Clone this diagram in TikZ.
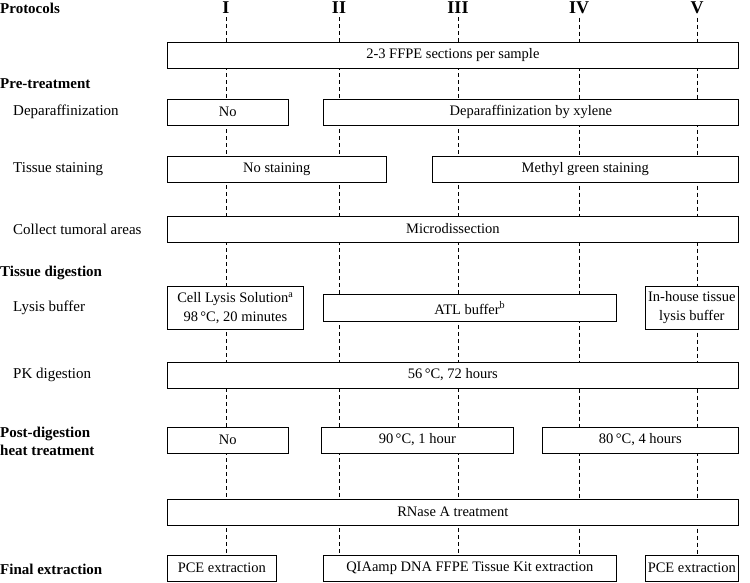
\documentclass[tikz,border=0pt]{standalone}
\usepackage{fontspec}
\setmainfont{Liberation Serif}
\usepackage{tikz}
\usetikzlibrary{positioning, backgrounds}

\tikzset{
  stagebox/.style={draw, fill=white, line width=0.7pt, minimum height=26pt,
    inner sep=0pt, anchor=west, align=center, font=\fontsize{14.5}{19}\selectfont},
  guide/.style={line width=0.6pt, dash pattern=on 4pt off 3pt},
  numeral/.style={font=\fontsize{18}{20}\selectfont\bfseries},
  grouplabel/.style={anchor=west, inner sep=0pt, align=left,
    font=\fontsize{15}{18}\selectfont\bfseries},
  rowlabel/.style={anchor=west, inner sep=0pt, font=\fontsize{15}{18}\selectfont},
}

\begin{document}
\begin{tikzpicture}[x=1pt, y=-1pt]
  \useasboundingbox (0,0) rectangle (750,583);

  % protocol columns
  \foreach \n/\x in {I/226, II/339, III/458, IV/579, V/697}
    \node[numeral] (p\n) at (\x,8) {\n};
  \coordinate (bottom) at (0,578);

  % row labels
  \node[grouplabel] (protocols) at (0,8) {Protocols};
  \node[grouplabel] (pretreat) at (0,84) {Pre-treatment};
  \node[rowlabel] (deparlbl) at (13,112) {Deparaffinization};
  \node[rowlabel] (stainlbl) at (13,169) {Tissue staining};
  \node[rowlabel] (collectlbl) at (13,229) {Collect tumoral areas};
  \node[grouplabel] (digestion) at (0,273) {Tissue digestion};
  \node[rowlabel] (lysislbl) at (13,308) {Lysis buffer};
  \node[rowlabel] (pklbl) at (13,375) {PK digestion};
  \node[grouplabel] (postdig) at (0,441) {Post-digestion\\heat treatment};
  \node[grouplabel] (final) at (0,569) {Final extraction};

  % steps
  \node[stagebox, minimum width=571pt] (ffpe) at (167,55) {2-3 FFPE sections per sample};

  \node[stagebox, minimum width=121pt] (nodepar) at (167,112) {No};
  \node[stagebox, minimum width=415pt] (xylene) at (323,112) {Deparaffinization by xylene};

  \node[stagebox, minimum width=219pt] (nostain) at (167,169) {No staining};
  \node[stagebox, minimum width=306pt] (methyl) at (432,169) {Methyl green staining};

  \node[stagebox, minimum width=571pt] (micro) at (167,229) {Microdissection};

  \node[stagebox, minimum width=136pt, minimum height=43pt] (celllysis) at (167,308)
    {Cell Lysis Solution\textsuperscript{a}\\98\,°C, 20 minutes};
  \node[stagebox, minimum width=293pt, minimum height=27pt] (atl) at (323,308)
    {ATL buffer\textsuperscript{b}};
  \node[stagebox, minimum width=93pt, minimum height=43pt] (inhouse) at (645,308)
    {In-house tissue\\lysis buffer};

  \node[stagebox, minimum width=571pt] (pk) at (167,375) {56\,°C, 72 hours};

  \node[stagebox, minimum width=121pt] (noheat) at (167,440) {No};
  \node[stagebox, minimum width=192pt] (heatninety) at (321,440) {90\,°C, 1 hour};
  \node[stagebox, minimum width=196pt] (heateighty) at (542,440) {80\,°C, 4 hours};

  \node[stagebox, minimum width=571pt] (rnase) at (167,512) {RNase A treatment};

  \node[stagebox, minimum width=109pt] (pceI) at (167,568) {PCE extraction};
  \node[stagebox, minimum width=293pt] (qiamp) at (323,568) {QIAamp DNA FFPE Tissue Kit extraction};
  \node[stagebox, minimum width=93pt] (pceV) at (645,568) {PCE extraction};

  % dashed guides behind the boxes
  \begin{scope}[on background layer]
    \foreach \n in {I, II, III, IV, V}
      \draw[guide] (p\n.south) -- (p\n |- bottom);
  \end{scope}
\end{tikzpicture}
\end{document}
